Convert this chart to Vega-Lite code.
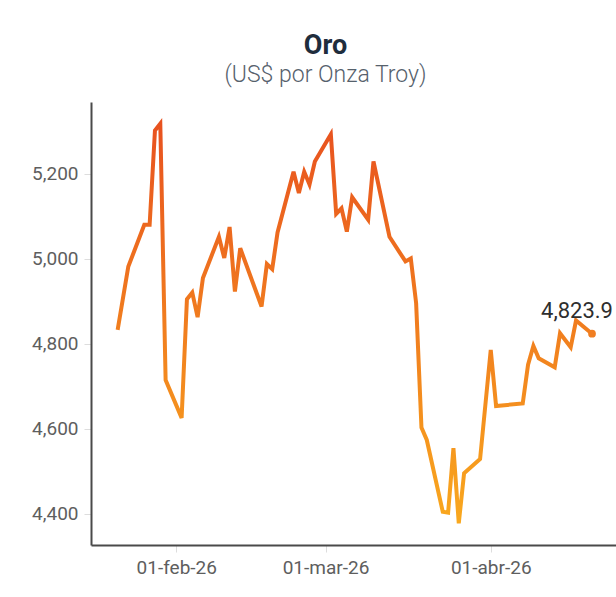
{
  "$schema": "https://vega.github.io/schema/vega-lite/v6.json",
  "autosize": "none",
  "padding": {"left": 91, "top": 102, "right": 0, "bottom": 52},
  "width": 525,
  "height": 443,
  "background": "white",
  "title": {
    "text": "Oro",
    "subtitle": "(US$ por Onza Troy)",
    "font": "Roboto",
    "fontSize": 27,
    "fontWeight": "bold",
    "color": "#1f2d3d",
    "subtitleFont": "Roboto",
    "subtitleFontSize": 23,
    "subtitleFontWeight": 300,
    "subtitleColor": "#56616c",
    "subtitlePadding": 4,
    "anchor": "middle",
    "dx": -28,
    "offset": 14
  },
  "data": {
    "values": [
      {"fecha": "2026/01/21", "precio": 4833},
      {"fecha": "2026/01/23", "precio": 4982},
      {"fecha": "2026/01/26", "precio": 5080},
      {"fecha": "2026/01/27", "precio": 5080},
      {"fecha": "2026/01/28", "precio": 5302},
      {"fecha": "2026/01/29", "precio": 5318},
      {"fecha": "2026/01/30", "precio": 4715},
      {"fecha": "2026/02/02", "precio": 4626},
      {"fecha": "2026/02/03", "precio": 4905},
      {"fecha": "2026/02/04", "precio": 4921},
      {"fecha": "2026/02/05", "precio": 4863},
      {"fecha": "2026/02/06", "precio": 4955},
      {"fecha": "2026/02/09", "precio": 5052},
      {"fecha": "2026/02/10", "precio": 5002},
      {"fecha": "2026/02/11", "precio": 5075},
      {"fecha": "2026/02/12", "precio": 4923},
      {"fecha": "2026/02/13", "precio": 5025},
      {"fecha": "2026/02/17", "precio": 4888},
      {"fecha": "2026/02/18", "precio": 4988},
      {"fecha": "2026/02/19", "precio": 4976},
      {"fecha": "2026/02/20", "precio": 5062},
      {"fecha": "2026/02/23", "precio": 5205},
      {"fecha": "2026/02/24", "precio": 5155},
      {"fecha": "2026/02/25", "precio": 5205},
      {"fecha": "2026/02/26", "precio": 5175},
      {"fecha": "2026/02/27", "precio": 5229},
      {"fecha": "2026/03/02", "precio": 5293},
      {"fecha": "2026/03/03", "precio": 5106},
      {"fecha": "2026/03/04", "precio": 5119},
      {"fecha": "2026/03/05", "precio": 5064},
      {"fecha": "2026/03/06", "precio": 5145},
      {"fecha": "2026/03/09", "precio": 5092},
      {"fecha": "2026/03/10", "precio": 5229},
      {"fecha": "2026/03/13", "precio": 5052},
      {"fecha": "2026/03/16", "precio": 4994},
      {"fecha": "2026/03/17", "precio": 5001},
      {"fecha": "2026/03/18", "precio": 4896},
      {"fecha": "2026/03/19", "precio": 4603},
      {"fecha": "2026/03/20", "precio": 4574},
      {"fecha": "2026/03/23", "precio": 4405},
      {"fecha": "2026/03/24", "precio": 4403},
      {"fecha": "2026/03/25", "precio": 4555},
      {"fecha": "2026/03/26", "precio": 4378},
      {"fecha": "2026/03/27", "precio": 4496},
      {"fecha": "2026/03/30", "precio": 4529},
      {"fecha": "2026/04/01", "precio": 4786},
      {"fecha": "2026/04/02", "precio": 4654},
      {"fecha": "2026/04/07", "precio": 4660},
      {"fecha": "2026/04/08", "precio": 4751},
      {"fecha": "2026/04/09", "precio": 4795},
      {"fecha": "2026/04/10", "precio": 4766},
      {"fecha": "2026/04/13", "precio": 4745},
      {"fecha": "2026/04/14", "precio": 4825},
      {"fecha": "2026/04/16", "precio": 4792},
      {"fecha": "2026/04/17", "precio": 4855},
      {"fecha": "2026/04/20", "precio": 4823.9}
    ]
  },
  "encoding": {
    "x": {
      "field": "fecha",
      "type": "temporal",
      "title": null,
      "scale": {
        "domain": [
          {"year": 2026, "month": 1, "date": 16},
          {"year": 2026, "month": 4, "date": 24, "hours": 12}
        ]
      },
      "axis": {
        "values": [
          {"year": 2026, "month": 2, "date": 1},
          {"year": 2026, "month": 3, "date": 1},
          {"year": 2026, "month": 4, "date": 1}
        ],
        "labelExpr": "timeFormat(datum.value, '%d') + '-' + ['ene','feb','mar','abr','may','jun','jul','ago','sep','oct','nov','dic'][month(datum.value)] + '-' + timeFormat(datum.value, '%y')",
        "grid": false,
        "domainColor": "#4a4a4a",
        "domainWidth": 2,
        "tickColor": "#dddddd",
        "tickSize": 7,
        "labelPadding": 6,
        "labelFont": "Roboto",
        "labelFontSize": 19,
        "labelColor": "#5e5e5e",
        "labelFlush": false,
        "labelOverlap": false
      }
    },
    "y": {
      "field": "precio",
      "type": "quantitative",
      "title": null,
      "scale": {"domain": [4327, 5369], "nice": false, "zero": false},
      "axis": {
        "values": [4400, 4600, 4800, 5000, 5200],
        "format": ",.0f",
        "grid": false,
        "domainColor": "#4a4a4a",
        "domainWidth": 2,
        "tickColor": "#dddddd",
        "tickSize": 7,
        "labelPadding": 6,
        "labelFont": "Roboto",
        "labelFontSize": 19,
        "labelColor": "#5e5e5e"
      }
    }
  },
  "layer": [
    {
      "mark": {
        "type": "line",
        "strokeWidth": 4,
        "strokeJoin": "miter",
        "color": {
          "gradient": "linear",
          "x1": 0, "y1": 0, "x2": 0, "y2": 1,
          "stops": [
            {"offset": 0, "color": "#e8521f"},
            {"offset": 1, "color": "#f9a81e"}
          ]
        }
      }
    },
    {
      "transform": [{"filter": "datum.precio == 4823.9"}],
      "mark": {"type": "point", "filled": true, "size": 60, "opacity": 1, "color": "#f07e22"}
    },
    {
      "transform": [{"filter": "datum.precio == 4823.9"}],
      "mark": {"type": "text", "align": "left", "baseline": "alphabetic", "dx": -51, "dy": -16, "font": "Roboto", "fontSize": 22, "color": "#2e2e2e"},
      "encoding": {"text": {"field": "precio", "type": "quantitative", "format": ",.1f"}}
    }
  ],
  "config": {
    "view": {"stroke": null}
  }
}
